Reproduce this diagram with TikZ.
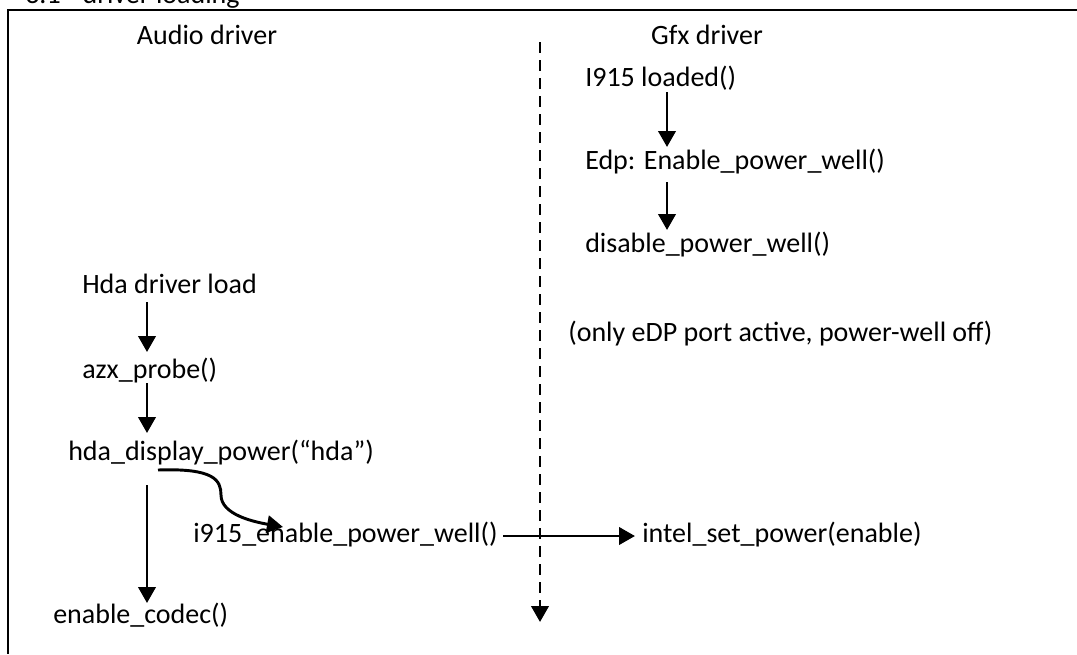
\documentclass[tikz,border=0pt]{standalone}
\usepackage{fontspec}
\setmainfont{Carlito}
\usetikzlibrary{arrows.meta,calc}
\begin{document}
\begin{tikzpicture}[x=0.75pt,y=-0.75pt,
  lbl/.style={inner sep=0pt, anchor=base west, font=\fontsize{21}{25}\selectfont},
  head/.style={inner sep=0pt, anchor=base, font=\fontsize{21}{25}\selectfont},
  tip/.style={-{Triangle[width=13pt,length=12pt]}},
  arr/.style={line width=2.2pt, tip},
  lane/.style={line width=2.2pt, dash pattern=on 8.25pt off 5.25pt, tip},
  frame/.style={line width=1.8pt}]
\useasboundingbox (0,0) rectangle (1077,654);
\clip (0,0) rectangle (1077,654);

% section heading above the frame
\node[lbl] (title) at (25,3) {3.1\hspace{16.5pt}driver loading};

% frame
\draw[frame] (1077,10) -- (8,10) -- (8,654);

% column headings
\node[head] (audio) at (207,44) {Audio driver};
\node[head] (gfx) at (707,44) {Gfx driver};

% boundary between the two drivers
\coordinate (laneTop) at (540,42);
\coordinate (laneEnd) at (540,622);
\draw[lane] (laneTop) -- (laneEnd);

% graphics driver side
\node[lbl] (i915load) at (585,86) {I915 loaded()};
\node[lbl] (edp) at (585,169) {Edp: Enable\_power\_well()};
\node[lbl] (disable) at (585,252) {disable\_power\_well()};
\node[lbl] (state) at (568,341) {(only eDP port active, power-well off)};

% audio driver side
\node[lbl] (hda) at (82,293) {Hda driver load};
\node[lbl] (azx) at (82,378) {azx\_probe()};
\node[lbl] (hdadisp) at (68,460) {hda\_display\_power(“hda”)};
\node[lbl] (codec) at (53,623) {enable\_codec()};
\node[lbl] (i915en) at (193,542) {i915\_enable\_power\_well()};
\node[lbl] (intel) at (642,542) {intel\_set\_power(enable)};

% flow arrows
\draw[arr] ($(i915load.base west)+(82,6)$) -- ($(edp.base west)+(82,-22)$);
\draw[arr] ($(edp.base west)+(82,13)$) -- ($(disable.base west)+(82,-22)$);

\draw[arr] ($(hda.base west)+(65,9)$) -- ($(azx.base west)+(65,-26)$);
\draw[arr] ($(azx.base west)+(65,5)$) -- ($(hdadisp.base west)+(79,-27)$);
\draw[arr] ($(hdadisp.base west)+(79,25)$) -- ($(codec.base west)+(94,-20)$);

\coordinate (bend) at (221,495);
\draw[arr] ($(hdadisp.base west)+(90,10)$)
  .. controls (214,468) and (221,480) .. (bend)
  .. controls (221,515) and (255,522) .. ($(i915en.base west)+(90,-15)$);

\draw[arr] ($(i915en.base west)+(310,-6)$) -- ($(intel.base west)+(-7,-6)$);
\end{tikzpicture}
\end{document}
